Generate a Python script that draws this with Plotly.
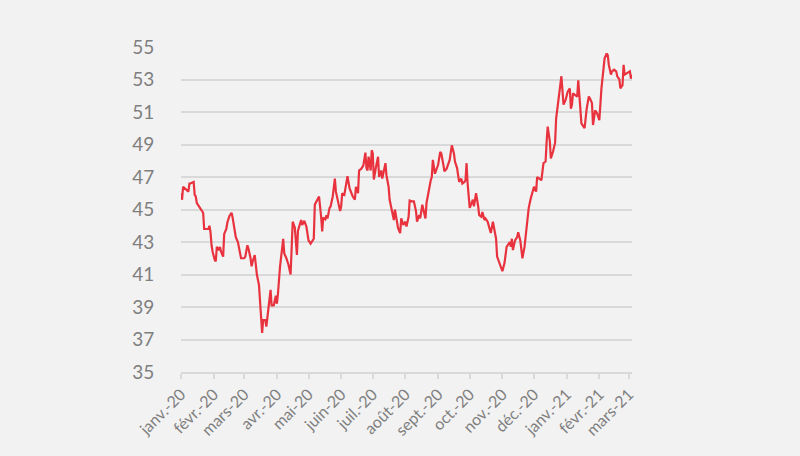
import plotly.graph_objects as go

dates = [
    "2020-01-01", "2020-01-02", "2020-01-03", "2020-01-06", "2020-01-08", "2020-01-09", "2020-01-10",
    "2020-01-13", "2020-01-14", "2020-01-15", "2020-01-16", "2020-01-17", "2020-01-19", "2020-01-21",
    "2020-01-22", "2020-01-23", "2020-01-25", "2020-01-27", "2020-01-28", "2020-01-29", "2020-01-30",
    "2020-01-31", "2020-02-02", "2020-02-03", "2020-02-04", "2020-02-06", "2020-02-07", "2020-02-08",
    "2020-02-10", "2020-02-11", "2020-02-13", "2020-02-14", "2020-02-16", "2020-02-18", "2020-02-19",
    "2020-02-21", "2020-02-22", "2020-02-24", "2020-02-25", "2020-02-27", "2020-03-01", "2020-03-02",
    "2020-03-04", "2020-03-05", "2020-03-07", "2020-03-08", "2020-03-09", "2020-03-11", "2020-03-12",
    "2020-03-13", "2020-03-15", "2020-03-16", "2020-03-18", "2020-03-19", "2020-03-21", "2020-03-22",
    "2020-03-24", "2020-03-26", "2020-03-27", "2020-03-29", "2020-03-31", "2020-04-01", "2020-04-02",
    "2020-04-04", "2020-04-07", "2020-04-08", "2020-04-10", "2020-04-12", "2020-04-14", "2020-04-16",
    "2020-04-18", "2020-04-20", "2020-04-21", "2020-04-24", "2020-04-25", "2020-04-27", "2020-04-29",
    "2020-05-01", "2020-05-03", "2020-05-06", "2020-05-07", "2020-05-10", "2020-05-11", "2020-05-13",
    "2020-05-14", "2020-05-15", "2020-05-17", "2020-05-18", "2020-05-19", "2020-05-21", "2020-05-22",
    "2020-05-24", "2020-05-26", "2020-05-27", "2020-05-29", "2020-05-31", "2020-06-01", "2020-06-02",
    "2020-06-04", "2020-06-06", "2020-06-07", "2020-06-09", "2020-06-10", "2020-06-12", "2020-06-14",
    "2020-06-15", "2020-06-17", "2020-06-18", "2020-06-20", "2020-06-22", "2020-06-24", "2020-06-25",
    "2020-06-26", "2020-06-27", "2020-06-29", "2020-06-30", "2020-07-01", "2020-07-02", "2020-07-04",
    "2020-07-06", "2020-07-07", "2020-07-09", "2020-07-10", "2020-07-11", "2020-07-13", "2020-07-14",
    "2020-07-16", "2020-07-17", "2020-07-19", "2020-07-21", "2020-07-22", "2020-07-24", "2020-07-25",
    "2020-07-27", "2020-07-28", "2020-07-30", "2020-08-01", "2020-08-02", "2020-08-04", "2020-08-05",
    "2020-08-07", "2020-08-09", "2020-08-11", "2020-08-12", "2020-08-14", "2020-08-15", "2020-08-17",
    "2020-08-18", "2020-08-20", "2020-08-21", "2020-08-23", "2020-08-25", "2020-08-26", "2020-08-27",
    "2020-08-29", "2020-08-30", "2020-09-01", "2020-09-03", "2020-09-04", "2020-09-06", "2020-09-07",
    "2020-09-09", "2020-09-12", "2020-09-14", "2020-09-16", "2020-09-17", "2020-09-19", "2020-09-20",
    "2020-09-21", "2020-09-23", "2020-09-24", "2020-09-26", "2020-09-27", "2020-09-28", "2020-09-29",
    "2020-10-01", "2020-10-02", "2020-10-04", "2020-10-05", "2020-10-07", "2020-10-09", "2020-10-10",
    "2020-10-12", "2020-10-13", "2020-10-15", "2020-10-16", "2020-10-18", "2020-10-20", "2020-10-21",
    "2020-10-23", "2020-10-24", "2020-10-26", "2020-10-27", "2020-10-29", "2020-10-30", "2020-11-01",
    "2020-11-03", "2020-11-05", "2020-11-06", "2020-11-08", "2020-11-09", "2020-11-10", "2020-11-11",
    "2020-11-13", "2020-11-15", "2020-11-16", "2020-11-18", "2020-11-19", "2020-11-20", "2020-11-22",
    "2020-11-23", "2020-11-25", "2020-11-26", "2020-11-28", "2020-11-30", "2020-12-01", "2020-12-03",
    "2020-12-04", "2020-12-06", "2020-12-08", "2020-12-10", "2020-12-12", "2020-12-13", "2020-12-14",
    "2020-12-16", "2020-12-17", "2020-12-19", "2020-12-21", "2020-12-22", "2020-12-24", "2020-12-26",
    "2020-12-27", "2020-12-29", "2020-12-31", "2021-01-02", "2021-01-04", "2021-01-05", "2021-01-06",
    "2021-01-07", "2021-01-09", "2021-01-11", "2021-01-12", "2021-01-13", "2021-01-15", "2021-01-17",
    "2021-01-18", "2021-01-20", "2021-01-22", "2021-01-23", "2021-01-25", "2021-01-26", "2021-01-28",
    "2021-01-30", "2021-01-31", "2021-02-01", "2021-02-03", "2021-02-05", "2021-02-06", "2021-02-08",
    "2021-02-09", "2021-02-10", "2021-02-12", "2021-02-13", "2021-02-15", "2021-02-17", "2021-02-18",
    "2021-02-20", "2021-02-21", "2021-02-23", "2021-02-24", "2021-02-25", "2021-02-27", "2021-03-02",
    "2021-03-03", "2021-03-04",
]

values = [
    46.0, 45.6, 46.4, 46.2, 46.1, 46.6, 46.6,
    46.7, 45.9, 45.8, 45.4, 45.3, 45.1, 44.9,
    44.8, 43.8, 43.8, 43.8, 44.0, 43.6, 42.8,
    42.4, 41.9, 41.8, 42.7, 42.5, 42.7, 42.4,
    42.1, 43.5, 43.8, 44.2, 44.6, 44.8, 44.5,
    43.7, 43.3, 43.0, 42.6, 42.0, 42.0, 42.1,
    42.8, 42.6, 42.0, 41.5, 41.8, 42.2, 41.6,
    41.0, 40.35, 39.2, 37.4, 38.2, 38.2, 37.8,
    39.0, 40.05, 39.1, 39.1, 39.7, 39.2, 39.8,
    41.5, 43.2, 42.3, 42.0, 41.6, 41.0, 44.25,
    43.9, 42.2, 43.7, 44.35, 44.05, 44.3, 43.95,
    43.1, 42.9, 43.2, 45.3, 45.7, 45.8, 44.55,
    43.65, 44.5, 44.4, 44.65, 44.45, 45.1, 45.2,
    45.8, 46.9, 46.1, 45.5, 44.9, 45.2, 46.0,
    45.9, 46.7, 47.05, 46.3, 46.1, 45.8, 45.6,
    46.4, 46.0, 47.4, 47.5, 47.7, 48.5, 47.55,
    47.4, 48.25, 47.4, 48.65, 48.45, 46.85, 47.6,
    48.25, 47.0, 47.4, 46.9, 47.2, 47.85, 47.1,
    46.4, 45.6, 45.0, 44.35, 45.0, 44.25, 43.85,
    43.55, 44.45, 44.05, 44.25, 43.95, 44.55, 45.55,
    45.5, 45.5, 44.9, 44.25, 44.65, 44.45, 45.3,
    45.0, 44.45, 45.4, 46.2, 46.8, 47.0, 48.05,
    47.2, 47.4, 47.75, 48.55, 48.45, 47.75, 47.35,
    47.5, 48.05, 48.95, 48.45, 47.95, 47.55, 47.1,
    46.7, 46.9, 46.6, 46.7, 46.8, 47.85, 46.6,
    45.1, 45.3, 45.6, 45.2, 46.0, 45.2, 44.65,
    44.55, 44.85, 44.35, 44.45, 44.25, 43.75, 43.55,
    44.25, 43.95, 43.2, 42.1, 41.75, 41.6, 41.2,
    41.7, 42.7, 42.8, 43.0, 42.7, 43.2, 42.5,
    43.1, 43.3, 43.6, 43.1, 42.4, 42.0, 42.7,
    43.3, 44.75, 45.1, 45.7, 46.3, 46.4, 46.1,
    47.0, 46.9, 46.8, 47.85, 47.95, 49.2, 50.1,
    49.2, 48.15, 48.55, 49.1, 50.6, 51.75, 52.65,
    53.2, 51.45, 51.75, 52.25, 52.45, 51.2, 51.45,
    52.15, 52.05, 51.95, 52.95, 51.85, 50.3, 50.1,
    50.0, 51.2, 51.95, 51.85, 51.55, 50.2, 51.1,
    50.9, 50.6, 50.5, 52.45, 54.0, 54.3, 54.6,
    54.5, 53.9, 53.3, 53.5, 53.6, 53.5, 53.2,
    53.0, 52.45, 52.65, 53.9, 53.3, 53.4, 53.5,
    53.05, 53.3,
]

tick_dates = [
    "2020-01-01", "2020-02-01", "2020-03-01", "2020-04-01", "2020-05-01",
    "2020-06-01", "2020-07-01", "2020-08-01", "2020-09-01", "2020-10-01",
    "2020-11-01", "2020-12-01", "2021-01-01", "2021-02-01", "2021-03-01",
]
tick_labels = [
    "janv.-20", "févr.-20", "mars-20", "avr.-20", "mai-20", "juin-20", "juil.-20",
    "août-20", "sept.-20", "oct.-20", "nov.-20", "déc.-20", "janv.-21", "févr.-21", "mars-21",
]
y_ticks = [35, 37, 39, 41, 43, 45, 47, 49, 51, 53, 55]

fig = go.Figure()
fig.add_trace(go.Scatter(
    x=dates, y=values, mode="lines",
    line=dict(color="#E8333F", width=2.2),
    hoverinfo="x+y", showlegend=False,
))

fig.update_layout(
    width=800, height=456,
    margin=dict(l=181, r=168, t=47, b=84),
    paper_bgcolor="#F2F2F2", plot_bgcolor="#F2F2F2",
    font=dict(family="Lato, 'Open Sans', sans-serif", color="#7F7F7F"),
    xaxis=dict(
        type="date",
        range=["2020-01-01", "2021-03-04"],
        tickvals=tick_dates, ticktext=tick_labels,
        tickangle=-45,
        tickfont=dict(size=16, color="#7F7F7F"),
        showgrid=False,
        showline=True, linecolor="#D9D9D9", linewidth=1.5,
        ticks="outside", ticklen=5, tickcolor="#D9D9D9", tickwidth=1.5,
        zeroline=False,
    ),
    yaxis=dict(
        range=[35, 55],
        tickvals=y_ticks,
        tickfont=dict(size=19, color="#7F7F7F"),
        showgrid=True, gridcolor="#D9D9D9", gridwidth=1.5,
        showline=False, zeroline=False,
        ticks="outside", ticklen=22, tickcolor="rgba(0,0,0,0)",
    ),
)

fig.write_html("out.html")
